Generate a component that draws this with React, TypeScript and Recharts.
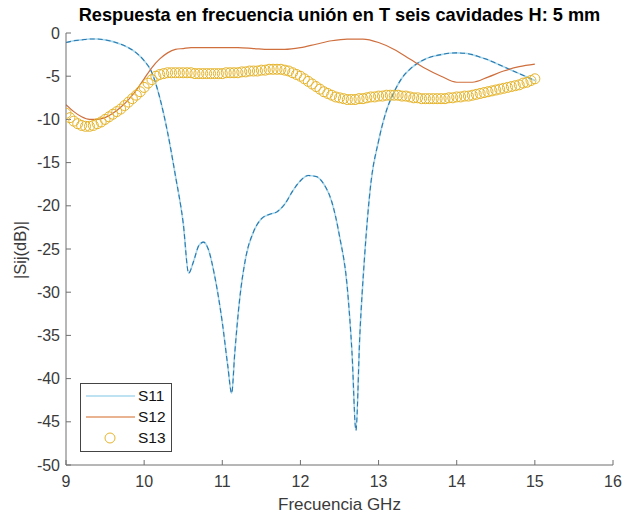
import { ComposedChart, Line, Scatter, XAxis, YAxis } from "recharts";

// S11 (blue)
const s11Freq = [
  9.0, 9.1, 9.2, 9.3, 9.4, 9.5, 9.6, 9.7, 9.8, 9.9, 10.0, 10.1, 10.2, 10.3, 10.4, 10.5,
  10.57, 10.63, 10.7, 10.76, 10.82, 10.9, 11.0, 11.07, 11.12, 11.16, 11.22, 11.3, 11.4,
  11.5, 11.6, 11.7, 11.8, 11.9, 12.0, 12.1, 12.2, 12.3, 12.4, 12.5, 12.6, 12.66, 12.71,
  12.76, 12.82, 12.9, 13.0, 13.1, 13.2, 13.3, 13.4, 13.5, 13.6, 13.7, 13.8, 13.9, 14.0,
  14.1, 14.2, 14.3, 14.4, 14.5, 14.6, 14.7, 14.8, 14.9, 15.0,
];
const s11Values = [
  -1.1, -0.9, -0.8, -0.7, -0.7, -0.8, -1.0, -1.3, -1.7, -2.3, -3.2, -4.6, -7.5, -11.5, -16.5, -22.0,
  -27.8, -26.5, -24.6, -24.2, -25.0, -28.0, -33.5, -38.5, -41.7, -37.0, -31.0, -26.0, -23.0,
  -21.5, -21.0, -20.7, -19.8, -18.3, -17.1, -16.5, -16.6, -17.5, -19.5, -23.5, -29.5, -37.0, -46.0,
  -35.0, -26.0, -17.5, -12.5, -9.0, -6.8, -5.2, -4.2, -3.5, -3.0, -2.7, -2.5, -2.35, -2.3,
  -2.35, -2.5, -2.8, -3.1, -3.5, -3.9, -4.3, -4.7, -5.1, -5.5,
];

// S12 (orange)
const s12Freq = [
  9.0, 9.1, 9.2, 9.3, 9.4, 9.5, 9.6, 9.7, 9.8, 9.9, 10.0, 10.1, 10.2, 10.3, 10.4, 10.5,
  10.6, 10.8, 11.0, 11.2, 11.4, 11.6, 11.8, 12.0, 12.2, 12.4, 12.6, 12.8, 13.0, 13.2,
  13.4, 13.6, 13.8, 14.0, 14.2, 14.4, 14.6, 14.8, 15.0,
];
const s12Values = [
  -8.3, -9.1, -9.7, -10.0, -10.0, -9.8, -9.3, -8.6, -7.7, -6.6, -5.3, -4.0, -3.0, -2.3, -1.9, -1.8,
  -1.7, -1.7, -1.7, -1.7, -1.8, -1.9, -1.9, -1.7, -1.3, -0.9, -0.7, -0.7, -1.1, -1.9,
  -3.0, -4.1, -5.0, -5.7, -5.7, -5.1, -4.4, -3.9, -3.6,
];

// S13 (yellow circles)
const s13Freq = [
  9.0, 9.05, 9.1, 9.15, 9.2, 9.25, 9.3, 9.35, 9.4, 9.45, 9.5, 9.55, 9.6, 9.65, 9.7, 9.75,
  9.8, 9.85, 9.9, 9.95, 10.0, 10.05, 10.1, 10.15, 10.2, 10.25, 10.3, 10.35, 10.4, 10.45,
  10.5, 10.55, 10.6, 10.65, 10.7, 10.75, 10.8, 10.85, 10.9, 10.95, 11.0, 11.05, 11.1, 11.15,
  11.2, 11.25, 11.3, 11.35, 11.4, 11.45, 11.5, 11.55, 11.6, 11.65, 11.7, 11.75, 11.8, 11.85,
  11.9, 11.95, 12.0, 12.05, 12.1, 12.15, 12.2, 12.25, 12.3, 12.35, 12.4, 12.45, 12.5, 12.55,
  12.6, 12.65, 12.7, 12.75, 12.8, 12.85, 12.9, 12.95, 13.0, 13.05, 13.1, 13.15, 13.2, 13.25,
  13.3, 13.35, 13.4, 13.45, 13.5, 13.55, 13.6, 13.65, 13.7, 13.75, 13.8, 13.85, 13.9, 13.95,
  14.0, 14.05, 14.1, 14.15, 14.2, 14.25, 14.3, 14.35, 14.4, 14.45, 14.5, 14.55, 14.6, 14.65,
  14.7, 14.75, 14.8, 14.85, 14.9, 14.95, 15.0,
];
const s13Values = [
  -9.3, -9.8, -10.2, -10.5, -10.7, -10.8, -10.8, -10.7, -10.5, -10.3, -10.0, -9.7, -9.4, -9.1, -8.8, -8.4,
  -8.0, -7.6, -7.2, -6.8, -6.3, -5.8, -5.4, -5.0, -4.8, -4.7, -4.6, -4.6, -4.6, -4.6,
  -4.6, -4.6, -4.6, -4.7, -4.7, -4.7, -4.7, -4.7, -4.7, -4.7, -4.7, -4.6, -4.6, -4.6,
  -4.6, -4.5, -4.5, -4.4, -4.4, -4.4, -4.3, -4.3, -4.2, -4.2, -4.2, -4.2, -4.3, -4.4,
  -4.6, -4.8, -5.0, -5.3, -5.6, -5.9, -6.2, -6.5, -6.8, -7.0, -7.2, -7.4, -7.5, -7.6,
  -7.7, -7.7, -7.7, -7.6, -7.6, -7.5, -7.4, -7.4, -7.3, -7.3, -7.2, -7.2, -7.2, -7.2,
  -7.3, -7.3, -7.4, -7.5, -7.5, -7.6, -7.6, -7.6, -7.6, -7.6, -7.6, -7.6, -7.5, -7.5,
  -7.4, -7.4, -7.3, -7.3, -7.2, -7.1, -7.0, -6.9, -6.8, -6.7, -6.6, -6.5, -6.4, -6.3,
  -6.2, -6.1, -6.0, -5.8, -5.7, -5.5, -5.3,
];

const xTicks = [9, 10, 11, 12, 13, 14, 15, 16];
const yTicks = [0, -5, -10, -15, -20, -25, -30, -35, -40, -45, -50];

const s11Data = s11Freq.map((f, i) => ({ f, v: s11Values[i] }));
const s12Data = s12Freq.map((f, i) => ({ f, v: s12Values[i] }));
const s13Data = s13Freq.map((f, i) => ({ f, v: s13Values[i] }));

const FONT = '"Liberation Sans", Arial, sans-serif';
const AXIS = "#6f6f6f";
const TICK = "#3a3a3a";
const BLUE_LIGHT = "#a9d9ee";
const BLUE = "#2a78ad";
const ORANGE = "#cf6f3e";
const YELLOW = "#e6b42a";

const Ring = (props: any) => (
  <circle cx={props.cx} cy={props.cy} r={5} fill="none" stroke={YELLOW} strokeWidth={1} />
);

export default function App() {
  return (
    <div style={{ position: "absolute", left: 0, top: 0, width: 627, height: 516, background: "#fff", fontFamily: FONT }}>
      <ComposedChart width={627} height={516} margin={{ top: 33, right: 14, bottom: 0, left: 0 }}>
        <XAxis
          dataKey="f"
          type="number"
          domain={[9, 16]}
          ticks={xTicks}
          allowDataOverflow
          height={51}
          stroke={AXIS}
          tickSize={-5}
          tickMargin={16}
          tick={{ fill: TICK, fontSize: 16, fontFamily: FONT }}
        />
        <YAxis
          dataKey="v"
          type="number"
          domain={[-50, 0]}
          ticks={yTicks}
          allowDataOverflow
          width={66}
          stroke={AXIS}
          tickSize={-5}
          tickMargin={11}
          tick={{ fill: TICK, fontSize: 16, fontFamily: FONT }}
        />
        <Line data={s11Data} dataKey="v" type="monotone" stroke={BLUE_LIGHT} strokeWidth={1.6} dot={false} isAnimationActive={false} />
        <Line data={s11Data} dataKey="v" type="monotone" stroke={BLUE} strokeWidth={1.1} strokeDasharray="5 3" dot={false} isAnimationActive={false} />
        <Line data={s12Data} dataKey="v" type="monotone" stroke={ORANGE} strokeWidth={1.2} dot={false} isAnimationActive={false} />
        <Scatter data={s13Data} dataKey="v" shape={Ring} isAnimationActive={false} />
      </ComposedChart>

      <div style={{ position: "absolute", left: 66, width: 547, top: 5, textAlign: "center", fontWeight: "bold", fontSize: 18.2, color: "#000", whiteSpace: "nowrap" }}>
        Respuesta en frecuencia unión en T seis cavidades H: 5 mm
      </div>
      <div style={{ position: "absolute", left: 66, width: 547, top: 495, textAlign: "center", fontSize: 17, color: TICK }}>
        Frecuencia GHz
      </div>
      <div style={{ position: "absolute", left: 20, top: 250, transform: "translate(-50%, -50%) rotate(-90deg)", fontSize: 16.5, color: TICK, whiteSpace: "nowrap" }}>
        |Sij(dB)|
      </div>

      <div style={{ position: "absolute", left: 80, top: 383, width: 90, height: 67, border: "1px solid #444", background: "#fff", fontSize: 15.5, color: "#111" }}>
        <svg width={60} height={67} style={{ position: "absolute", left: 0, top: 0 }}>
          <line x1={5} x2={54} y1={12} y2={12} stroke={BLUE_LIGHT} strokeWidth={1.5} />
          <line x1={5} x2={54} y1={33} y2={33} stroke="#e2986c" strokeWidth={1.5} />
          <circle cx={29} cy={54} r={5} fill="none" stroke={YELLOW} strokeWidth={1} />
        </svg>
        <div style={{ position: "absolute", left: 57, top: 3 }}>S11</div>
        <div style={{ position: "absolute", left: 57, top: 24 }}>S12</div>
        <div style={{ position: "absolute", left: 57, top: 45 }}>S13</div>
      </div>
    </div>
  );
}
